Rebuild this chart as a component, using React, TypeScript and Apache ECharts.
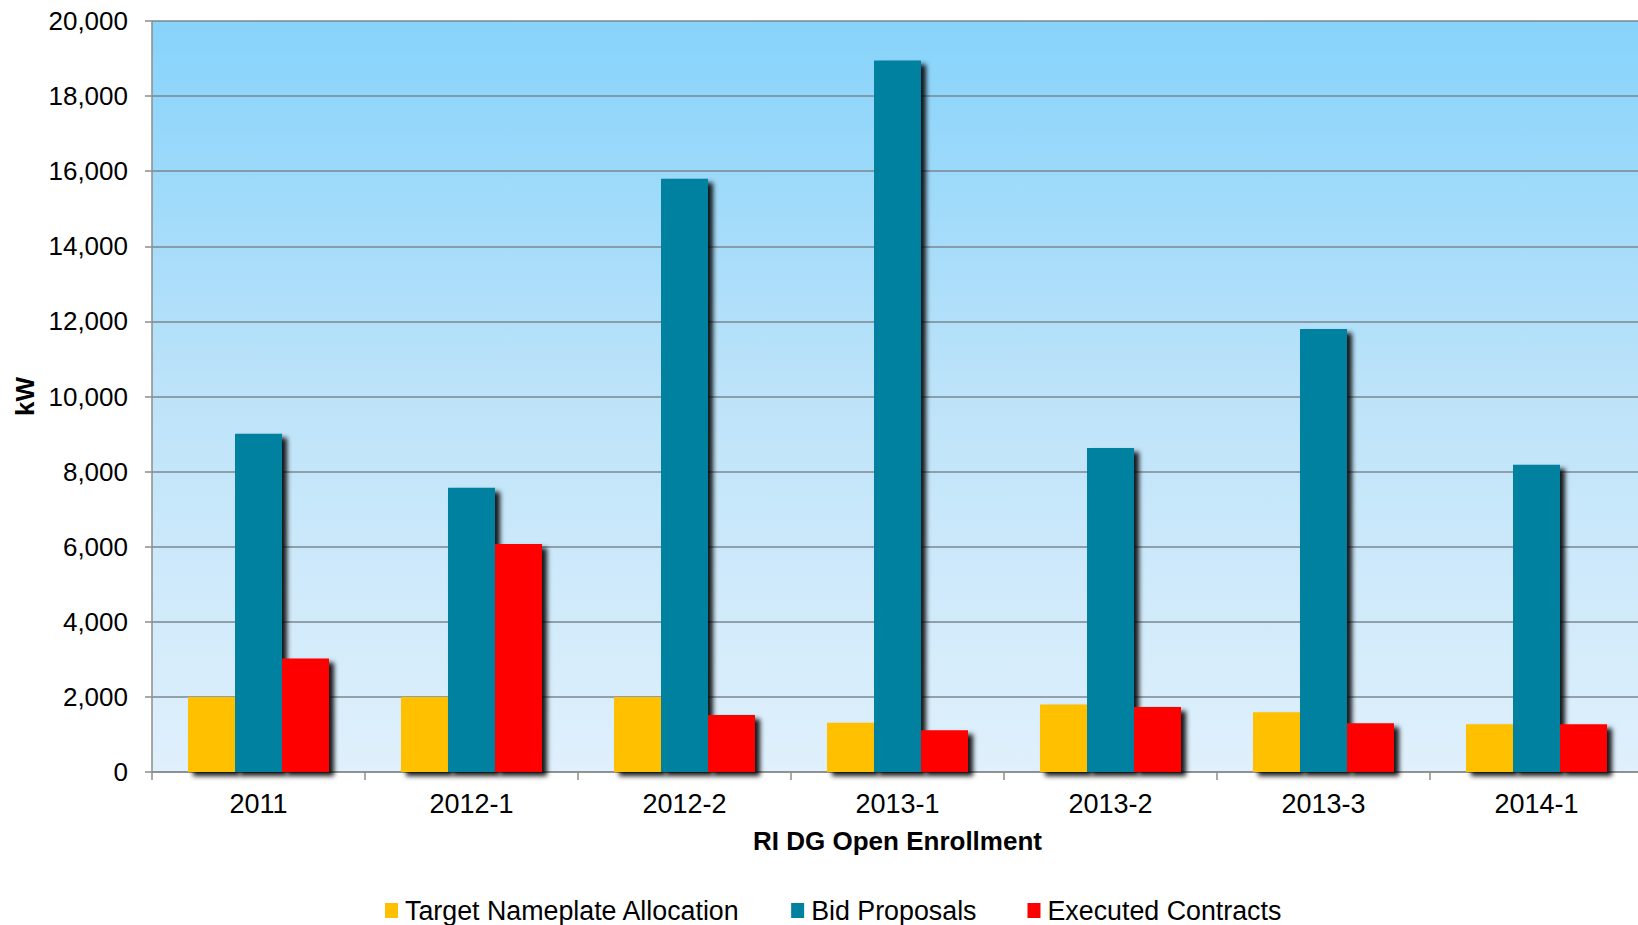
import React, { useEffect, useRef } from "react";
import * as echarts from "echarts";

const categories = ["2011", "2012-1", "2012-2", "2013-1", "2013-2", "2013-3", "2014-1"];
const targetNameplate = [2000, 2000, 2000, 1310, 1800, 1590, 1270];
const bidProposals = [9010, 7570, 15800, 18950, 8630, 11800, 8180];
const executedContracts = [3020, 6070, 1520, 1110, 1730, 1300, 1270];
const seriesNames = ["Target Nameplate Allocation", "Bid Proposals", "Executed Contracts"];
const seriesColors = ["#FFC000", "#0081A0", "#FF0000"];

const FONT = "'Liberation Sans', Arial, sans-serif";

export default function App() {
  const ref = useRef<HTMLDivElement>(null);
  useEffect(() => {
    document.body.style.margin = "0";
    document.body.style.overflow = "hidden";
    if (!ref.current) return;
    const chart = echarts.init(ref.current, undefined, { renderer: "svg" });
    const dataSets = [targetNameplate, bidProposals, executedContracts];
    chart.setOption({
      animation: false,
      backgroundColor: "#ffffff",
      textStyle: { fontFamily: FONT },
      grid: {
        left: 152,
        top: 21,
        width: 1491,
        height: 751,
        outerBoundsMode: "none",
        containLabel: false,
        show: true,
        borderWidth: 0,
        backgroundColor: new echarts.graphic.LinearGradient(0, 0, 0, 1, [
          { offset: 0, color: "#86D3FB" },
          { offset: 0.5, color: "#BDE3F9" },
          { offset: 1, color: "#E0F0FC" },
        ]),
      },
      legend: {
        left: 380,
        top: 892,
        itemWidth: 13,
        itemHeight: 15,
        itemGap: 51,
        icon: "rect",
        textStyle: { fontFamily: FONT, fontSize: 26.8, color: "#000", padding: [0, 0, 0, 2] },
        data: seriesNames,
      },
      xAxis: {
        type: "category",
        data: categories,
        name: "RI DG Open Enrollment",
        nameLocation: "middle",
        nameGap: 56,
        nameTextStyle: { fontFamily: FONT, fontSize: 26, fontWeight: "bold", color: "#000" },
        axisLine: { show: true, lineStyle: { color: "#8C8C8C", width: 1.5 } },
        axisTick: { show: true, length: 8, alignWithLabel: false, lineStyle: { color: "#8C8C8C", width: 1.5 } },
        axisLabel: { fontFamily: FONT, fontSize: 27, color: "#000", margin: 18 },
      },
      yAxis: {
        type: "value",
        min: 0,
        max: 20000,
        interval: 2000,
        name: "kW",
        nameLocation: "middle",
        nameGap: 112,
        nameRotate: 90,
        nameTextStyle: { fontFamily: FONT, fontSize: 26, fontWeight: "bold", color: "#000" },
        axisLine: { show: true, lineStyle: { color: "#8C8C8C", width: 1.5 } },
        axisTick: { show: true, length: 7, lineStyle: { color: "#8C8C8C", width: 1.5 } },
        axisLabel: {
          fontFamily: FONT,
          fontSize: 26,
          color: "#000",
          margin: 24,
          formatter: (v: number) => v.toLocaleString("en-US"),
        },
        splitLine: { show: true, lineStyle: { color: "#7A8790", width: 1.5 } },
      },
      series: seriesNames.map((name, i) => ({
        name,
        type: "bar",
        data: dataSets[i],
        barWidth: 47,
        barGap: "0%",
        itemStyle: {
          color: seriesColors[i],
          shadowColor: "rgba(0,0,0,0.9)",
          shadowBlur: 5,
          shadowOffsetX: 5,
          shadowOffsetY: 4,
        },
      })),
    });
    return () => chart.dispose();
  }, []);
  return (
    <div
      ref={ref}
      style={{ position: "fixed", left: 0, top: 0, width: 1638, height: 925 }}
    />
  );
}
